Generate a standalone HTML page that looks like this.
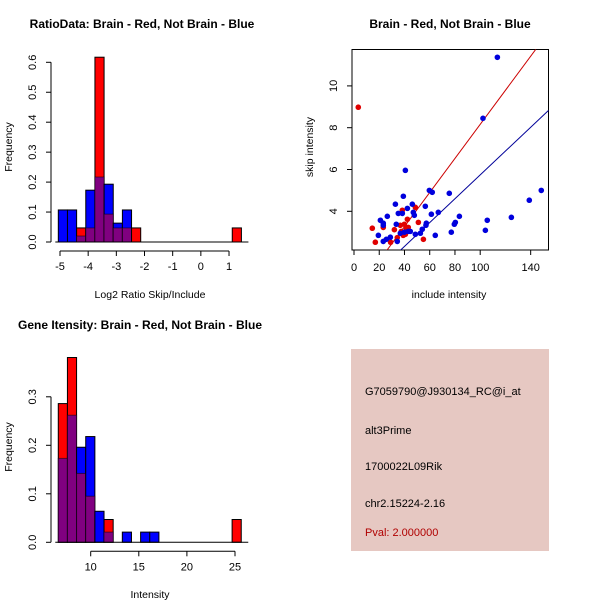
<!DOCTYPE html>
<html><head><meta charset="utf-8"><style>
body{margin:0;background:#fff}
svg{display:block;font-family:"Liberation Sans",sans-serif}
</style></head><body>
<svg id="s" width="600" height="600" viewBox="0 0 600 600">
<rect x="0" y="0" width="600" height="600" fill="#fff"/>
<rect x="351" y="349" width="198" height="202" fill="#e6c8c2"/>
<text x="365" y="395" font-size="11" fill="#000">G7059790@J930134_RC@i_at</text>
<text x="365" y="434" font-size="11" fill="#000">alt3Prime</text>
<text x="365" y="470" font-size="11" fill="#000">1700022L09Rik</text>
<text x="365" y="507" font-size="11" fill="#000">chr2.15224-2.16</text>
<text x="365" y="536" font-size="11" fill="#b00000">Pval: 2.000000</text>
</svg>
<script>
// Histogram 1 data
const h1Start=-5.06, h1Width=0.325;
const h1Red=[0,0,0.047,0.047,0.617,0.093,0.047,0.047,0.047,0,0,0,0,0,0,0,0,0,0,0.047];
const h1Blue=[0.107,0.107,0.02,0.173,0.217,0.193,0.063,0.107,0,0,0,0,0,0,0,0,0,0,0,0];
const h1XTicks=[-5,-4,-3,-2,-1,0,1];
const h1YTicks=[0,0.1,0.2,0.3,0.4,0.5,0.6];
// Histogram 2 data
const h2Start=6.63, h2Width=0.951;
const h2Red=[0.286,0.381,0.142,0.095,0,0.047,0,0,0,0,0,0,0,0,0,0,0,0,0,0.047];
const h2Blue=[0.173,0.262,0.196,0.218,0.064,0.021,0,0.021,0,0.021,0.021,0,0,0,0,0,0,0,0,0];
const h2XTicks=[10,15,20,25];
const h2YTicks=[0,0.1,0.2,0.3];
// Scatter data
const redX=[3.4,14.5,16.9,23.2,29,32,34.3,36.7,38.3,39.9,40.7,42.3,43,48.6,51,55,39,37.5,41.5];
const redY=[8.98,3.19,2.52,3.23,2.52,3.12,2.74,3.33,4.05,3.38,2.9,3.62,3.23,4.19,3.47,2.66,2.85,3.04,3.19];
const blueX=[40.7,39.1,32.8,35.1,38.3,42.3,46.2,47,47.8,56.5,59.7,62,75.5,61.3,66.8,57.3,57,20.9,23.2,26.4,23.2,19.3,23.2,25.6,28.8,34.3,33.5,36.7,39.9,43,44.6,48.6,52.6,54.1,64.4,77.1,79.5,80.3,83.5,102.2,113.6,104.1,105.6,124.7,138.9,148.4];
const blueY=[5.96,4.72,4.34,3.9,3.9,4.14,4.34,3.95,3.81,4.24,5.0,4.91,4.86,3.86,3.95,3.43,3.33,3.57,3.43,3.76,3.33,2.85,2.56,2.66,2.76,2.56,3.38,2.95,3.0,3.04,3.04,2.9,2.95,3.14,2.85,3.0,3.38,3.47,3.76,8.45,11.37,3.09,3.57,3.71,4.53,5.0];
const redFit=[0.0815,0.01];
const blueFit=[0.057,0.04];
const scXTicks=[0,20,40,60,80,100,140];
const scYTicks=[4,6,8,10];

const s=document.getElementById('s');
const NS='http://www.w3.org/2000/svg';
function mk(tag,at,txt){const e=document.createElementNS(NS,tag);for(const k in at)e.setAttribute(k,at[k]);if(txt!==undefined)e.textContent=txt;s.appendChild(e);return e;}
function fmt(v){return v.toFixed(1);}

function hist(o){
  const X=v=>o.x0+(v-o.v0)*o.sx, Y=v=>o.base-v*o.sy;
  for(let i=0;i<o.red.length;i++){
    const l=X(o.start+i*o.w), r=X(o.start+(i+1)*o.w);
    const R=o.red[i],B=o.blue[i];
    const hi=Math.max(R,B), lo=Math.min(R,B);
    if(hi>0){
      const b=mk('rect',{x:l,y:Y(hi),width:r-l,height:hi*o.sy,fill:R>=B?'#ff0000':'#0000ff',stroke:'#000','stroke-width':1});
      
      
    }
    if(lo>0){
      const p=mk('rect',{x:l,y:Y(lo),width:r-l,height:lo*o.sy,fill:'#800080',stroke:'#000','stroke-opacity':0.5,'stroke-width':1});
      
      
    }
  }
  const xa=mk('line',{x1:X(o.xt[0]),x2:X(o.xt[o.xt.length-1]),y1:o.base+9,y2:o.base+9,stroke:'#000'});
  
  
  o.xt.forEach(t=>{mk('line',{x1:X(t),x2:X(t),y1:o.base+9,y2:o.base+14,stroke:'#000'});
    const tl=mk('text',{x:X(t),y:o.base+28,'font-size':11,'text-anchor':'middle'},String(t));
    
    });
  const ya=mk('line',{x1:o.yaxX,x2:o.yaxX,y1:Y(o.yt[0]),y2:Y(o.yt[o.yt.length-1]),stroke:'#000'});
  
  
  o.yt.forEach(t=>{mk('line',{x1:o.yaxX,x2:o.yaxX-5,y1:Y(t),y2:Y(t),stroke:'#000'});
    const tx=o.yaxX-15;
    const tl=mk('text',{x:tx,y:Y(t),'font-size':11,'text-anchor':'middle',transform:`rotate(-90 ${tx} ${Y(t)})`},fmt(t));
    
    });
  mk('line',{x1:X(o.start)-3,x2:X(o.start+o.red.length*o.w)+7,y1:o.base,y2:o.base,stroke:'#000'});
}
hist({name:'ratio-hist',x0:60,v0:-5,sx:28.17,base:242,sy:299.5,start:h1Start,w:h1Width,red:h1Red,blue:h1Blue,xt:h1XTicks,yt:h1YTicks,yaxX:51});
hist({name:'intensity-hist',x0:90.7,v0:10,sx:9.62,base:542.3,sy:485,start:h2Start,w:h2Width,red:h2Red,blue:h2Blue,xt:h2XTicks,yt:h2YTicks,yaxX:51});

// Scatter
const SX=v=>354+v*1.262, SY=v=>211.3-(v-4)*20.9;
mk('defs',{}).innerHTML='<clipPath id="cp"><rect x="352" y="49.5" width="196.5" height="200.5"/></clipPath>';
const box=mk('rect',{x:352,y:49.5,width:196.5,height:200.5,fill:'none',stroke:'#000'});


[[redFit,'#cc0000','red-fit-line'],[blueFit,'#000099','blue-fit-line']].forEach(([f,c,n])=>{
  const ln=mk('line',{x1:SX(0),y1:SY(f[1]),x2:SX(160),y2:SY(f[1]+f[0]*160),stroke:c,'clip-path':'url(#cp)'});
  
  
});
redX.forEach((x,i)=>{const c=mk('circle',{cx:SX(x),cy:SY(redY[i]),r:2.8,fill:'#e00000'});
  
  });
blueX.forEach((x,i)=>{const c=mk('circle',{cx:SX(x),cy:SY(blueY[i]),r:2.8,fill:'#0000dd'});
  
  });
scXTicks.forEach(t=>{mk('line',{x1:SX(t),x2:SX(t),y1:250,y2:255,stroke:'#000'});
  const tl=mk('text',{x:SX(t),y:271,'font-size':11,'text-anchor':'middle'},String(t));
  
  });
scYTicks.forEach(t=>{mk('line',{x1:352,x2:347,y1:SY(t),y2:SY(t),stroke:'#000'});
  const tl=mk('text',{x:337,y:SY(t),'font-size':11,'text-anchor':'middle',transform:`rotate(-90 337 ${SY(t)})`},String(t));
  
  });

const labels=[
 [142,28,'RatioData: Brain - Red, Not Brain - Blue',true,0,'ratio-title'],
 [450,28,'Brain - Red, Not Brain - Blue',true,0,'scatter-title'],
 [140,329,'Gene Itensity: Brain - Red, Not Brain - Blue',true,0,'intensity-title'],
 [150,298,'Log2 Ratio Skip/Include',false,0,'ratio-x-title'],
 [449,298,'include intensity',false,0,'scatter-x-title'],
 [150,598,'Intensity',false,0,'intensity-x-title'],
 [12,147,'Frequency',false,-90,'ratio-y-title'],
 [313,147,'skip intensity',false,-90,'scatter-y-title'],
 [12,447,'Frequency',false,-90,'intensity-y-title']];
labels.forEach(([x,y,t,b,r,n])=>{
  const e=mk('text',{x:x,y:y,'font-size':b?12:10.5,'font-weight':b?'bold':'normal','text-anchor':'middle',transform:r?`rotate(${r} ${x} ${y})`:''},t);
  
  
});
</script>
</body></html>
